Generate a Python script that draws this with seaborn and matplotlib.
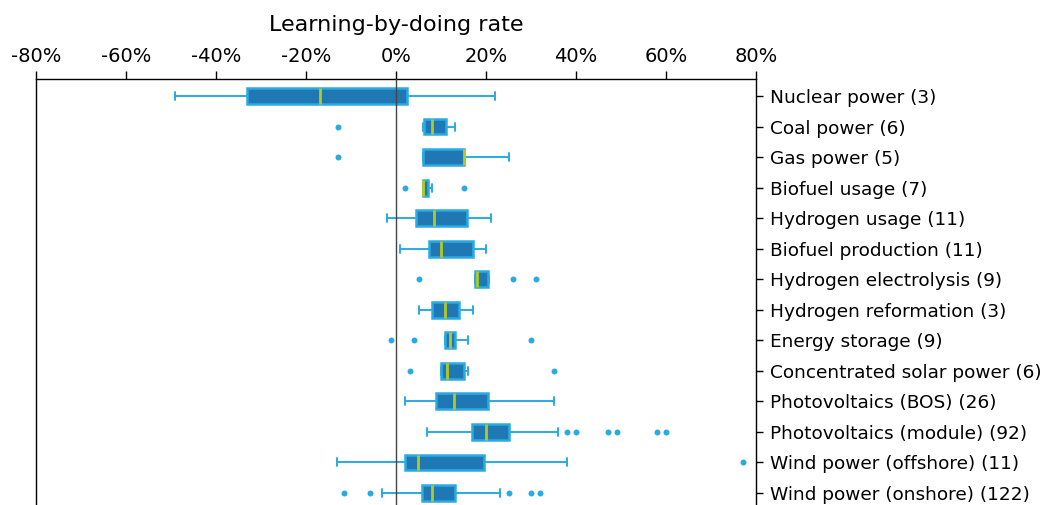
import matplotlib
matplotlib.use("Agg")
import matplotlib.pyplot as plt
import seaborn as sns
from matplotlib.ticker import FuncFormatter

categories = [
    "Nuclear power (3)", "Coal power (6)", "Gas power (5)", "Biofuel usage (7)",
    "Hydrogen usage (11)", "Biofuel production (11)", "Hydrogen electrolysis (9)",
    "Hydrogen reformation (3)", "Energy storage (9)", "Concentrated solar power (6)",
    "Photovoltaics (BOS) (26)", "Photovoltaics (module) (92)",
    "Wind power (offshore) (11)", "Wind power (onshore) (122)",
]
whisker_low = [-49.1, 5.9, 5.9, 5.9, -2.1, 0.9, 17.5, 5.0, 10.9, 9.9, 1.9, 6.9, -13.2, -3.1]
q1 = [-33.2, 6.3, 5.9, 5.9, 4.4, 7.3, 17.6, 7.9, 10.9, 10.1, 8.8, 16.9, 1.9, 5.8]
medians = [-17.0, 7.9, 15.0, 6.0, 8.4, 9.9, 17.9, 10.9, 11.9, 11.4, 12.9, 19.9, 4.9, 7.9]
q3 = [2.5, 11.0, 15.0, 7.0, 15.7, 17.0, 20.5, 14.0, 13.0, 15.0, 20.5, 25.0, 19.6, 13.0]
whisker_high = [22.0, 13.0, 25.0, 8.0, 21.0, 20.0, 20.7, 17.0, 16.0, 16.0, 35.0, 35.9, 38.0, 23.0]
outliers = [
    [], [-13.0], [-13.0], [1.9, 15.0], [], [], [5.0, 25.9, 31.0], [],
    [-1.1, 3.9, 29.9], [3.0, 35.0], [],
    [37.9, 39.9, 47.0, 49.0, 57.9, 59.9], [77.0], [-11.6, -5.7, 25.0, 29.9, 31.9],
]
x_ticks = [-80, -60, -40, -20, 0, 20, 40, 60, 80]

sns.set_style("white")
plt.rcParams["font.family"] = ["DejaVu Sans"]

face = "#1f77b4"
edge = "#29abe2"
med_c = "#b5c91e"

fig = plt.figure(figsize=(10.47, 5.05), dpi=100)
ax = fig.add_axes([36 / 1047, 0.0, 720 / 1047, (505 - 79) / 505])

stats = []
for i, name in enumerate(categories):
    stats.append(dict(label=name, whislo=whisker_low[i], q1=q1[i], med=medians[i],
                      q3=q3[i], whishi=whisker_high[i], fliers=outliers[i]))

positions = list(range(len(categories)))
ax.bxp(stats, positions=positions, orientation="horizontal", widths=0.52,
       patch_artist=True, showfliers=True,
       boxprops=dict(facecolor=face, edgecolor=edge, linewidth=1.8),
       whiskerprops=dict(color=edge, linewidth=1.4),
       capprops=dict(color=edge, linewidth=1.4),
       medianprops=dict(color=med_c, linewidth=2.0),
       flierprops=dict(marker="o", markersize=4.3, markerfacecolor=edge,
                       markeredgecolor="none", linestyle="none"))

ax.axvline(0, color="#444444", linewidth=1.0, zorder=5)

ax.set_xlim(-80, 80)
ax.set_ylim(13.393, -0.557)
ax.set_xticks(x_ticks)
ax.xaxis.set_major_formatter(FuncFormatter(lambda v, p: f"{v:.0f}%"))
ax.xaxis.tick_top()
ax.xaxis.set_label_position("top")
ax.set_xlabel("Learning-by-doing rate", fontsize=16, labelpad=12, color="black")
ax.yaxis.tick_right()
ax.set_yticks(positions)
ax.set_yticklabels(categories)
ax.tick_params(axis="x", which="both", top=True, bottom=False, direction="out",
               length=6, width=1, labelsize=14, colors="black", pad=3)
ax.tick_params(axis="y", which="both", right=True, left=False, direction="out",
               length=5, width=1, labelsize=13.3, colors="black", pad=5)
ax.spines["bottom"].set_visible(False)
for s in ["top", "left", "right"]:
    ax.spines[s].set_visible(True)
    ax.spines[s].set_color("black")
    ax.spines[s].set_linewidth(1.0)
ax.grid(False)

fig.savefig("out.png", dpi=100)
